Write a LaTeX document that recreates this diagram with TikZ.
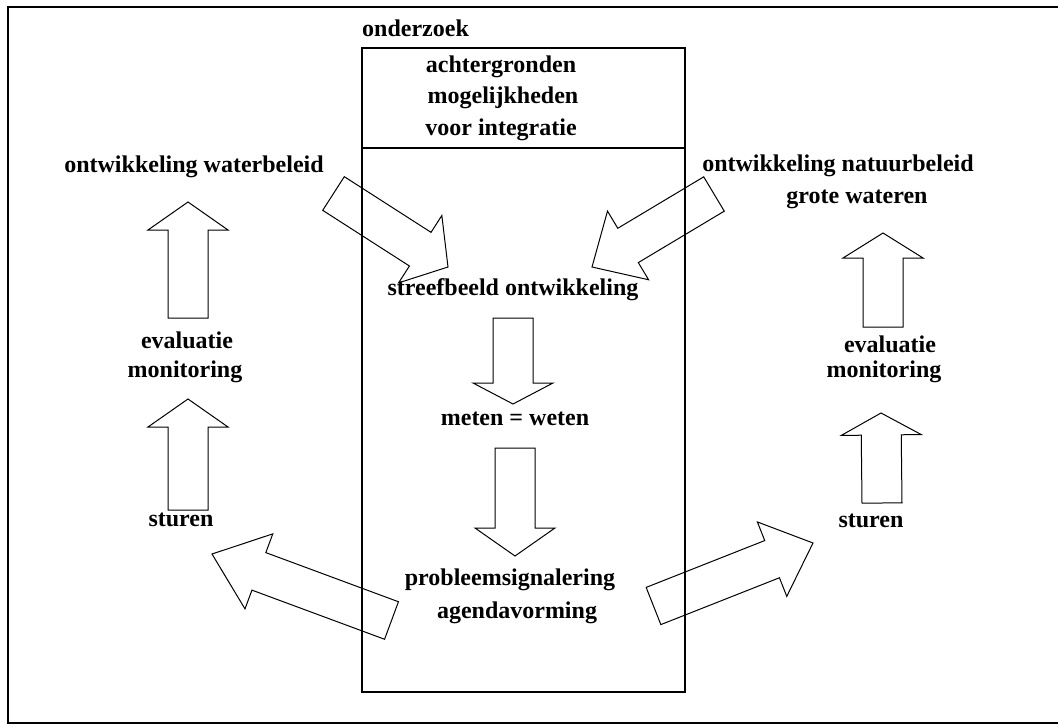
\documentclass[tikz,border=0pt]{standalone}
\usepackage{fontspec}
\setmainfont{Liberation Serif}
\usepackage{tikz}
\usetikzlibrary{calc}

\tikzset{
  txt/.style={font=\fontsize{24}{29}\selectfont\bfseries, inner sep=0pt, anchor=base},
  blk/.style={draw, line width=1pt, line join=miter}
}

% block arrow from tail #1 to tip #2, head length #3
\newcommand{\blockarrow}[3]{%
  \coordinate (hb) at ($(#2)!#3!(#1)$);
  \draw[blk] ($(#1)!20pt!90:(#2)$) -- ($(hb)!20pt!90:(#2)$) -- ($(hb)!40pt!90:(#2)$) -- (#2)
    -- ($(hb)!40pt!-90:(#2)$) -- ($(hb)!20pt!-90:(#2)$) -- ($(#1)!20pt!-90:(#2)$) -- cycle;}

\begin{document}
\begin{tikzpicture}[x=1pt,y=-1pt]
		\useasboundingbox (0,0) rectangle (1058,725);
		%Outer frame
		\draw[line width=2pt] (1058,7)--(8,7)--(8,723)--(1058,723);
		%Research column
		\draw[line width=1.2pt] (362,48) rectangle (685,692);
		\draw[line width=1.2pt] (362,148)--(685,148);
		\node[txt, anchor=base west] (onderzoek) at (362,37) {onderzoek};
		\node[txt] (achter) at (501,73) {achtergronden};
		\node[txt] (mogel) at (503,103) {mogelijkheden};
		\node[txt] (integr) at (501,135) {voor integratie};
		%Texts in the middle
		\node[txt] (streef) at (513,295) {streefbeeld ontwikkeling};
		\node[txt] (meten) at (515,425) {meten = weten};
		\node[txt] (probleem) at (510,585) {probleemsignalering};
		\node[txt] (agenda) at (517,618) {agendavorming};
		%Left cycle
		\node[txt] (waterb) at (194,172) {ontwikkeling waterbeleid};
		\node[txt] (evalL) at (187,348) {evaluatie};
		\node[txt] (monL) at (185,377) {monitoring};
		\node[txt] (sturenL) at (181,526) {sturen};
		%Right cycle
		\node[txt] (natuurb) at (838,171) {ontwikkeling natuurbeleid};
		\node[txt] (grote) at (857,203) {grote wateren};
		\node[txt] (evalR) at (890,352) {evaluatie};
		\node[txt] (monR) at (884,377) {monitoring};
		\node[txt] (sturenR) at (871,527) {sturen};
		%Arrow ends
		\coordinate (wbtail) at (333.5,193.5);
		\coordinate (wbtip) at (448,267);
		\coordinate (nbtail) at (714,194);
		\coordinate (nbtip) at (592,267);
		\coordinate (c1tail) at (513,318);
		\coordinate (c1tip) at (513,404);
		\coordinate (c2tail) at (515,448);
		\coordinate (c2tip) at (515,556);
		\coordinate (lltail) at (391.5,620.5);
		\coordinate (lltip) at (212,554);
		\coordinate (lrtail) at (653.5,606);
		\coordinate (lrtip) at (813,543);
		\coordinate (lv1tail) at (188,318);
		\coordinate (lv1tip) at (188,202);
		\coordinate (lv2tail) at (188,510);
		\coordinate (lv2tip) at (188,399);
		\coordinate (rv1tail) at (883,327);
		\coordinate (rv1tip) at (883,233);
		\coordinate (rv2tail) at (882,503);
		\coordinate (rv2tip) at (881,413);
		%Block arrows
		\blockarrow{wbtail}{wbtip}{33pt}
		\blockarrow{nbtail}{nbtip}{42pt}
		\blockarrow{c1tail}{c1tip}{21pt}
		\blockarrow{c2tail}{c2tip}{28pt}
		\blockarrow{lltail}{lltip}{50pt}
		\blockarrow{lrtail}{lrtip}{44pt}
		\blockarrow{lv1tail}{lv1tip}{28pt}
		\blockarrow{lv2tail}{lv2tip}{28pt}
		\blockarrow{rv1tail}{rv1tip}{25pt}
		\blockarrow{rv2tail}{rv2tip}{22pt}
\end{tikzpicture}
\end{document}
